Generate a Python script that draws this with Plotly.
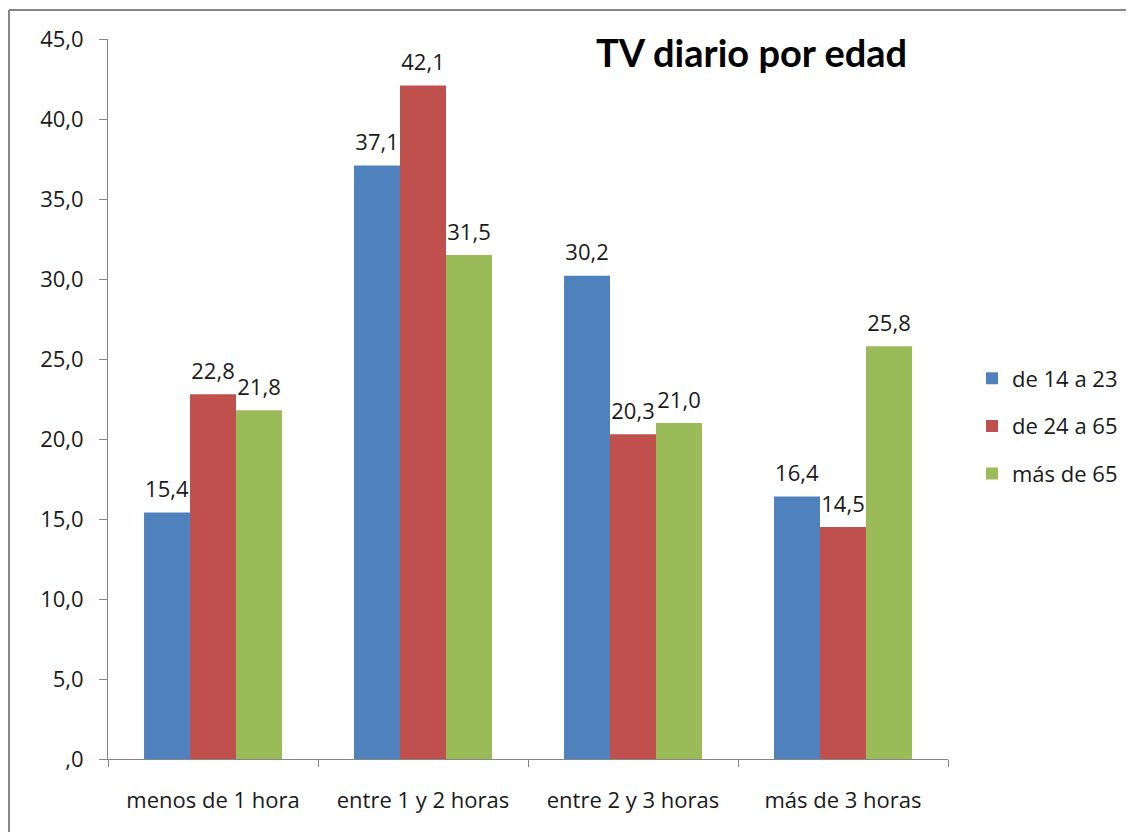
import plotly.graph_objects as go

categories = ["menos de 1 hora", "entre 1 y 2 horas", "entre 2 y 3 horas", "más de 3 horas"]
series_names = ["de 14 a 23", "de 24 a 65", "más de 65"]
vals_14_23 = [15.4, 37.1, 30.2, 16.4]
vals_24_65 = [22.8, 42.1, 20.3, 14.5]
vals_65 = [21.8, 31.5, 21.0, 25.8]
colors = ["#4F81BD", "#C0504D", "#9BBB59"]
y_tickvals = [0, 5, 10, 15, 20, 25, 30, 35, 40, 45]
y_ticktext = [",0", "5,0", "10,0", "15,0", "20,0", "25,0", "30,0", "35,0", "40,0", "45,0"]

FONT = "Open Sans"
TXT = "#1a1a1a"
FS = 22

# page offset (body margin) compensation
OX, OY = 8, 8

fig = go.Figure()
for i, (name, vals) in enumerate(zip(series_names, [vals_14_23, vals_24_65, vals_65])):
    labels = [f"<span style='font-size:{FS}px'>" + f"{v:.1f}".replace(".", ",") + "</span><br> " for v in vals]
    fig.add_trace(go.Bar(
        x=categories, y=vals, name=name, marker=dict(color=colors[i], line=dict(width=0)),
        text=labels, textposition="outside", texttemplate="%{text}",
        textfont=dict(family=FONT, size=8, color=TXT),
        constraintext="none", cliponaxis=False, legendgroup=name,
    ))

W, H = 1134 - OX, 832 - OY
L, R, T, B = 108 - OX, 948 - OX, 39 - OY, 759 - OY
PH = B - T

fig.update_layout(
    width=W, height=H,
    margin=dict(l=L, r=W - R, t=T, b=H - B, autoexpand=False),
    paper_bgcolor="white", plot_bgcolor="white",
    barmode="group", bargap=0.343, bargroupgap=0,
    font=dict(family=FONT, size=FS, color=TXT),
    showlegend=True,
    legend=dict(x=(972 - OX - L) / (R - L), xanchor="left", y=(B - (426 - OY)) / PH, yanchor="middle",
                font=dict(family=FONT, size=FS, color=TXT), tracegroupgap=16,
                itemwidth=30, bgcolor="rgba(0,0,0,0)"),
)
fig.update_xaxes(showline=True, linecolor="#868686", linewidth=1, ticks="outside", tickson="boundaries",
                 ticklen=7, tickcolor="#868686", showgrid=False, tickfont=dict(family=FONT, size=FS, color=TXT),
                 fixedrange=True, automargin=False, ticklabelstandoff=22)
fig.update_yaxes(range=[0, 45], tickvals=y_tickvals, ticktext=y_ticktext, showline=True, linecolor="#868686",
                 linewidth=1, ticks="outside", ticklen=8, tickcolor="#868686", showgrid=False, zeroline=False,
                 tickfont=dict(family=FONT, size=FS, color=TXT), fixedrange=True, automargin=False,
                 ticklabelstandoff=11)

fig.add_annotation(text="<b>TV diario por edad</b>", xref="paper", yref="paper",
                   x=(751 - OX - L) / (R - L), y=(B - (52 - OY)) / PH, xanchor="center", yanchor="middle",
                   showarrow=False, font=dict(family="Lato", size=38, color="#000000"))

# chart frame (top and left edges visible; right and bottom lie outside the picture)
fx0 = (9 - OX - L) / (R - L)
fx1 = (1200 - L) / (R - L)
fy0 = (B - 900) / PH
fy1 = (B - (10 - OY)) / PH
fig.add_shape(type="line", xref="paper", yref="paper", x0=fx0, x1=fx1, y0=fy1, y1=fy1,
              line=dict(color="#868686", width=2), layer="below")
fig.add_shape(type="line", xref="paper", yref="paper", x0=fx0, x1=fx0, y0=fy0, y1=fy1,
              line=dict(color="#868686", width=2), layer="below")

fig.write_html("out.html", config={"displayModeBar": False})
